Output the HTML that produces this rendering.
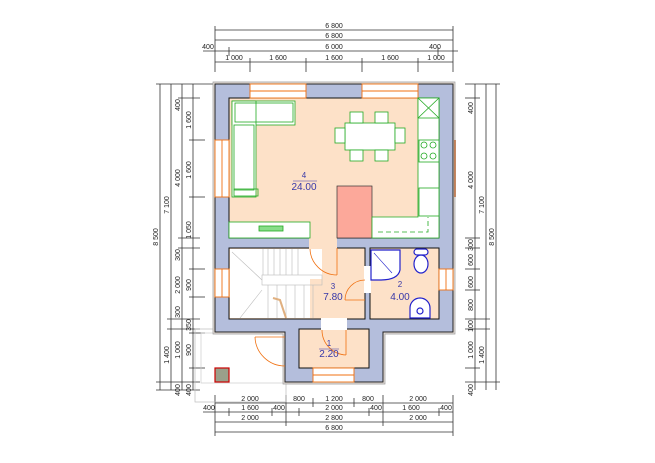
<!DOCTYPE html>
<html><head><meta charset="utf-8"><style>html,body{margin:0;padding:0;background:#fff}svg{display:block}</style></head><body>
<svg width="655" height="463" viewBox="0 0 655 463" xmlns="http://www.w3.org/2000/svg" font-family="Liberation Sans, sans-serif">
<!-- top dims -->
<g stroke="#333" stroke-width="0.8" fill="none">
<line x1="215" y1="30" x2="453" y2="30"/><line x1="215" y1="40" x2="453" y2="40"/>
<line x1="203" y1="51" x2="458" y2="51"/><line x1="215" y1="62" x2="453" y2="62"/>
<line x1="215" y1="26" x2="215" y2="72"/><line x1="453" y1="26" x2="453" y2="72"/>
<line x1="229" y1="47" x2="229" y2="56"/><line x1="438" y1="47" x2="438" y2="56"/>
<line x1="250" y1="58" x2="250" y2="72"/><line x1="306" y1="58" x2="306" y2="72"/><line x1="362" y1="58" x2="362" y2="72"/><line x1="418" y1="58" x2="418" y2="72"/>
<!-- left dims -->
<line x1="160" y1="84" x2="160" y2="390"/><line x1="171" y1="84" x2="171" y2="390"/><line x1="182" y1="84" x2="182" y2="390"/><line x1="193" y1="84" x2="193" y2="390"/>
<line x1="156" y1="84" x2="215" y2="84"/><line x1="156" y1="390" x2="200" y2="390"/>
<line x1="178" y1="98" x2="200" y2="98"/><line x1="189" y1="140" x2="205" y2="140"/><line x1="189" y1="197" x2="205" y2="197"/>
<line x1="178" y1="238" x2="200" y2="238"/><line x1="178" y1="248" x2="200" y2="248"/><line x1="189" y1="269" x2="205" y2="269"/><line x1="189" y1="297" x2="205" y2="297"/>
<line x1="167" y1="319" x2="200" y2="319"/><line x1="167" y1="329" x2="200" y2="329"/><line x1="189" y1="333" x2="205" y2="333"/><line x1="189" y1="368" x2="205" y2="368"/><line x1="156" y1="382" x2="200" y2="382"/>
<!-- right dims -->
<line x1="475" y1="84" x2="475" y2="390"/><line x1="486" y1="84" x2="486" y2="390"/><line x1="496" y1="84" x2="496" y2="390"/>
<line x1="465" y1="84" x2="500" y2="84"/><line x1="465" y1="98" x2="480" y2="98"/><line x1="465" y1="238" x2="480" y2="238"/><line x1="465" y1="248" x2="480" y2="248"/>
<line x1="465" y1="269" x2="480" y2="269"/><line x1="465" y1="290" x2="480" y2="290"/><line x1="465" y1="319" x2="490" y2="319"/><line x1="465" y1="329" x2="490" y2="329"/><line x1="465" y1="368" x2="480" y2="368"/><line x1="465" y1="382" x2="500" y2="382"/>
<!-- bottom dims -->
<line x1="215" y1="403" x2="453" y2="403"/><line x1="203" y1="412" x2="453" y2="412"/><line x1="215" y1="422" x2="453" y2="422"/><line x1="215" y1="432" x2="453" y2="432"/>
<line x1="215" y1="395" x2="215" y2="436"/><line x1="453" y1="395" x2="453" y2="436"/>
<line x1="286" y1="395" x2="286" y2="426"/><line x1="383" y1="395" x2="383" y2="426"/>
<line x1="313" y1="398" x2="313" y2="407"/><line x1="354" y1="398" x2="354" y2="407"/>
<line x1="229" y1="408" x2="229" y2="416"/><line x1="272" y1="408" x2="272" y2="416"/><line x1="299" y1="408" x2="299" y2="416"/><line x1="369" y1="408" x2="369" y2="416"/><line x1="439" y1="408" x2="439" y2="416"/>
</g>
<g font-size="7" fill="#222" text-anchor="middle">
<text x="334" y="28">6 800</text><text x="334" y="38">6 800</text><text x="334" y="49">6 000</text><text x="208" y="49">400</text><text x="435" y="49">400</text>
<text x="234" y="60">1 000</text><text x="278" y="60">1 600</text><text x="334" y="60">1 600</text><text x="390" y="60">1 600</text><text x="436" y="60">1 000</text>
<text x="250" y="401">2 000</text><text x="299" y="401">800</text><text x="334" y="401">1 200</text><text x="368" y="401">800</text><text x="418" y="401">2 000</text>
<text x="209" y="410">400</text><text x="250" y="410">1 600</text><text x="279" y="410">400</text><text x="334" y="410">2 000</text><text x="376" y="410">400</text><text x="411" y="410">1 600</text><text x="446" y="410">400</text>
<text x="250" y="420">2 000</text><text x="334" y="420">2 800</text><text x="418" y="420">2 000</text><text x="334" y="430">6 800</text>
</g>
<g font-size="7" fill="#222" text-anchor="middle">
<text transform="translate(158,237) rotate(-90)">8 500</text><text transform="translate(169,205) rotate(-90)">7 100</text><text transform="translate(180,178) rotate(-90)">4 000</text>
<text transform="translate(191,120) rotate(-90)">1 600</text><text transform="translate(191,170) rotate(-90)">1 600</text><text transform="translate(191,230) rotate(-90)">1 050</text>
<text transform="translate(180,105) rotate(-90)">400</text><text transform="translate(180,285) rotate(-90)">2 000</text><text transform="translate(191,285) rotate(-90)">900</text>
<text transform="translate(180,255) rotate(-90)">300</text><text transform="translate(180,312) rotate(-90)">300</text><text transform="translate(191,325) rotate(-90)">350</text>
<text transform="translate(169,355) rotate(-90)">1 400</text><text transform="translate(180,350) rotate(-90)">1 000</text><text transform="translate(191,350) rotate(-90)">900</text>
<text transform="translate(180,390) rotate(-90)">400</text><text transform="translate(191,390) rotate(-90)">400</text>
<text transform="translate(473,108) rotate(-90)">400</text><text transform="translate(473,180) rotate(-90)">4 000</text><text transform="translate(484,205) rotate(-90)">7 100</text><text transform="translate(494,237) rotate(-90)">8 500</text>
<text transform="translate(473,245) rotate(-90)">300</text><text transform="translate(473,260) rotate(-90)">600</text><text transform="translate(473,282) rotate(-90)">600</text><text transform="translate(473,305) rotate(-90)">800</text>
<text transform="translate(473,326) rotate(-90)">100</text><text transform="translate(473,350) rotate(-90)">1 000</text><text transform="translate(484,355) rotate(-90)">1 400</text><text transform="translate(473,390) rotate(-90)">400</text>
</g>
<!-- porch -->
<rect x="195" y="329" width="91" height="73" fill="none" stroke="#bbb" stroke-width="0.7"/>
<rect x="201" y="333" width="85" height="50" fill="none" stroke="#ccc" stroke-width="0.7"/>
<rect x="215" y="368" width="14" height="14" fill="#9aa08a" stroke="#c00" stroke-width="1.2"/>
<!-- walls -->
<path d="M213 82 H455 V334 H385 V384 H283 V334 H213 Z" fill="#e9e2dc" stroke="#999" stroke-width="0.7"/>
<path d="M215 84 H453 V332 H383 V382 H285 V332 H215 Z" fill="#b4bedc" stroke="#222" stroke-width="1"/>
<!-- rooms -->
<g stroke="#111" stroke-width="1">
<rect x="229" y="98" width="210" height="140" fill="#fde1c8"/>
<rect x="229" y="248" width="136" height="71" fill="#fde1c8"/>
<rect x="370" y="248" width="69" height="71" fill="#fde1c8"/>
<rect x="299" y="329" width="70" height="39" fill="#fde1c8"/>
</g>
<rect x="230" y="249" width="80" height="69" fill="#fff"/>
<rect x="310" y="249" width="12" height="30" fill="#fff"/>
<!-- door gaps -->
<rect x="309" y="237" width="28" height="12" fill="#fde1c8"/>
<rect x="321" y="318" width="26" height="12" fill="#fff"/>
<rect x="364" y="266" width="7" height="27" fill="#fff"/>
<!-- windows -->
<g fill="#fff" stroke="#f07010" stroke-width="0.9">
<rect x="250" y="84" width="56" height="14"/><rect x="362" y="84" width="56" height="14"/>
<rect x="215" y="140" width="14" height="57"/><rect x="215" y="269" width="14" height="28"/>
<rect x="439" y="269" width="14" height="21"/><rect x="313" y="368" width="41" height="14"/>
<line x1="250" y1="91" x2="306" y2="91"/><line x1="362" y1="91" x2="418" y2="91"/>
<line x1="222" y1="140" x2="222" y2="197"/><line x1="222" y1="269" x2="222" y2="297"/><line x1="446" y1="269" x2="446" y2="290"/><line x1="313" y1="375" x2="354" y2="375"/>
</g>
<line x1="455" y1="140" x2="455" y2="197" stroke="#b06030" stroke-width="1.5"/>
<!-- kitchen furniture -->
<rect x="337" y="186" width="35" height="52" fill="#fca89a" stroke="#333" stroke-width="0.7"/>
<g fill="#fff" stroke="#2a2" stroke-width="0.8">
<path d="M372 238 V217 H418 V98 H439 V238 Z"/>
<rect x="229" y="222" width="81" height="16"/>
<rect x="418" y="98" width="21" height="20"/><line x1="418" y1="98" x2="439" y2="118"/><line x1="439" y1="98" x2="418" y2="118"/>
<rect x="419" y="140" width="20" height="22"/><circle cx="424" cy="145" r="3"/><circle cx="433" cy="145" r="3"/><circle cx="424" cy="156" r="3"/><circle cx="433" cy="156" r="3"/>
<rect x="419" y="188" width="20" height="28"/>
<path d="M378 232 H428 V217" stroke-dasharray="5 3" fill="none"/>
<rect x="259" y="226" width="24" height="5" fill="#8d8"/>
<rect x="232" y="101" width="63" height="24"/><rect x="232" y="101" width="24" height="96"/>
<rect x="235" y="103" width="58" height="19" fill="none"/><rect x="234" y="125" width="20" height="65" fill="none"/>
<rect x="234" y="189" width="24" height="7" fill="none"/>
<rect x="345" y="123" width="50" height="27"/>
<rect x="335" y="128" width="10" height="15"/><rect x="395" y="128" width="10" height="15"/>
<rect x="350" y="112" width="13" height="11"/><rect x="375" y="112" width="13" height="11"/>
<rect x="350" y="150" width="13" height="11"/><rect x="375" y="150" width="13" height="11"/>
</g>
<!-- stairs -->
<g stroke="#bbb" stroke-width="0.6" fill="none">
<line x1="263" y1="249" x2="263" y2="275"/><line x1="268" y1="249" x2="268" y2="275"/><line x1="274" y1="249" x2="274" y2="275"/><line x1="280" y1="249" x2="280" y2="275"/><line x1="286" y1="249" x2="286" y2="275"/><line x1="292" y1="249" x2="292" y2="275"/><line x1="298" y1="249" x2="298" y2="275"/>
<rect x="262" y="275" width="60" height="10"/>
<line x1="268" y1="285" x2="268" y2="318"/><line x1="277" y1="285" x2="277" y2="318"/><line x1="286" y1="285" x2="286" y2="318"/><line x1="295" y1="285" x2="295" y2="318"/><line x1="304" y1="285" x2="304" y2="318"/><line x1="313" y1="285" x2="313" y2="318"/>
<line x1="232" y1="252" x2="262" y2="280"/><line x1="240" y1="318" x2="262" y2="290"/>
</g>
<path d="M273 298 L280 300 L286 318" stroke="#e0b080" stroke-width="2" fill="none"/>
<!-- doors -->
<g stroke="#f07010" stroke-width="0.8" fill="none">
<line x1="337" y1="248" x2="337" y2="275"/><path d="M310 249 A27 27 0 0 0 337 275"/>
<line x1="346" y1="330" x2="346" y2="355"/><path d="M322 330 A25 25 0 0 0 346 355"/>
<line x1="345" y1="300" x2="365" y2="300"/><path d="M365 280 A20 20 0 0 0 345 300"/>
<line x1="285" y1="337" x2="255" y2="337"/><path d="M255 337 A30 30 0 0 0 285 366"/>
</g>
<!-- bath fixtures -->
<g stroke="#22c" stroke-width="1.2" fill="#fff">
<path d="M371 250 H400 V270 Q398 280 380 280 H371 Z"/>
<line x1="374" y1="253" x2="392" y2="273" stroke-width="0.6"/>
<ellipse cx="421" cy="264" rx="7" ry="9"/><rect x="414" y="249" width="14" height="6" rx="3"/>
<path d="M410 318 V308 A10 10 0 0 1 430 308 V318 Z"/><circle cx="420" cy="311" r="3"/>
</g>
<!-- labels -->
<g fill="#3838a8" text-anchor="middle" font-size="10">
<text x="304" y="178" font-size="8">4</text><line x1="293" y1="181" x2="317" y2="181" stroke="#3838a8" stroke-width="0.6"/><text x="304" y="190">24.00</text>
<text x="333" y="289" font-size="8">3</text><text x="333" y="300">7.80</text>
<text x="400" y="287" font-size="8">2</text><text x="400" y="300">4.00</text>
<text x="329" y="346" font-size="8">1</text><line x1="319" y1="349" x2="339" y2="349" stroke="#3838a8" stroke-width="0.6"/><text x="329" y="357">2.20</text>
</g>
</svg>
</body></html>
